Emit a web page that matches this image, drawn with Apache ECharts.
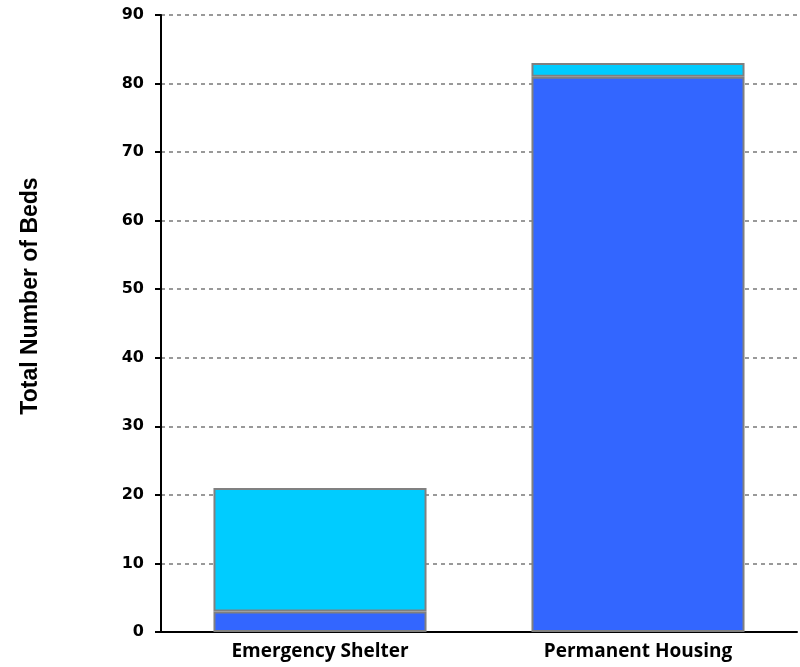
<!DOCTYPE html>
<html><head><meta charset="utf-8">
<script src="https://cdn.jsdelivr.net/npm/echarts@6/dist/echarts.min.js"></script>
<style>html,body{margin:0;padding:0;background:#fff}#c{width:800px;height:667px}</style>
</head><body><div id="c"></div>
<script>
const categories = ['Emergency Shelter', 'Permanent Housing'];
const lowerValues = [3, 81];
const upperValues = [18, 2];
const yTicks = [0, 10, 20, 30, 40, 50, 60, 70, 80, 90];
const yTitle = 'Total Number of Beds';

const chart = echarts.init(document.getElementById('c'));
chart.setOption({
  animation: false,
  grid: { left: 161, right: 3, top: 15, bottom: 35, containLabel: false },
  graphic: [{
    type: 'text', x: 31, y: 296, rotation: Math.PI / 2,
    style: { text: yTitle, fill: '#000', font: 'bold 23px "Liberation Sans"', textAlign: 'center', textVerticalAlign: 'middle' }
  }],
  xAxis: {
    type: 'category', data: categories,
    axisLine: { lineStyle: { color: '#000', width: 2 } },
    axisTick: { show: false },
    axisLabel: { color: '#000', fontWeight: 'bold', fontSize: 19, fontFamily: 'Open Sans', margin: 10 }
  },
  yAxis: {
    type: 'value', min: yTicks[0], max: yTicks[yTicks.length - 1], interval: 10,
    axisLine: { show: true, lineStyle: { color: '#000', width: 2 } },
    axisTick: { show: true, length: 6, lineStyle: { color: '#000', width: 2 } },
    axisLabel: { color: '#000', fontWeight: 'bold', fontSize: 16, fontFamily: 'DejaVu Sans', margin: 17 },
    splitLine: { show: true, lineStyle: { color: '#999', type: [4, 4], width: 2 } }
  },
  series: [
    { type: 'bar', stack: 'a', data: lowerValues, barWidth: '67%',
      itemStyle: { color: '#3366FF', borderColor: '#808080', borderWidth: 2 } },
    { type: 'bar', stack: 'a', data: upperValues, barWidth: '67%',
      itemStyle: { color: '#00CCFF', borderColor: '#808080', borderWidth: 2 } }
  ]
});
</script></body></html>
